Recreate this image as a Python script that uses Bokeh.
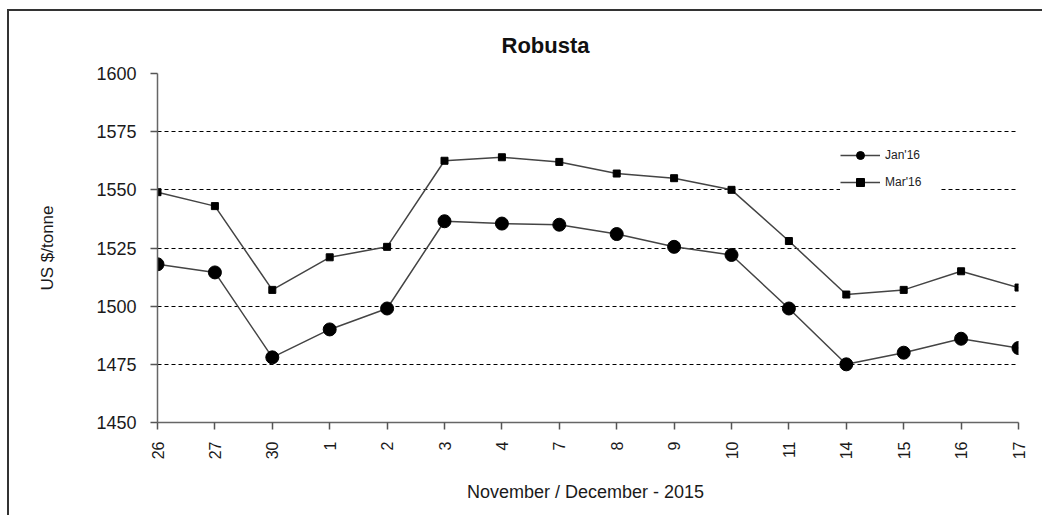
from bokeh.plotting import figure
from bokeh.models import Range1d, FixedTicker, Legend, LegendItem
from bokeh.embed import file_html
from bokeh.resources import INLINE
from math import pi

days = ["26", "27", "30", "1", "2", "3", "4", "7", "8", "9", "10", "11", "14", "15", "16", "17"]
jan16 = [1518, 1514.5, 1478, 1490, 1499, 1536.5, 1535.5, 1535, 1531, 1525.5, 1522, 1499, 1475, 1480, 1486, 1482]
mar16 = [1549, 1543, 1507, 1521, 1525.5, 1562.5, 1564, 1562, 1557, 1555, 1550, 1528, 1505, 1507, 1515, 1508]
y_ticks = [1450, 1475, 1500, 1525, 1550, 1575, 1600]

xs = list(range(len(days)))
FONT = "Liberation Sans"

p = figure(width=1035, height=506, output_backend="svg", toolbar_location=None,
           x_range=Range1d(0, len(days) - 1), y_range=Range1d(1450, 1600),
           min_border_left=148, min_border_right=26, min_border_top=62, min_border_bottom=95)
p.styles = {"border-top": "2px solid #333333", "border-left": "2px solid #333333",
            "margin-left": "7px", "margin-top": "9px"}
p.outline_line_color = None
p.background_fill_color = "white"

p.title.text = "Robusta"
p.title.text_font = FONT
p.title.text_font_size = "22px"
p.title.text_font_style = "bold"
p.title.text_color = "#111111"
p.title.align = "left"
p.title.offset = 344
p.title.standoff = 32

# axes
p.xaxis.ticker = FixedTicker(ticks=xs)
p.xaxis.major_label_overrides = {i: d for i, d in enumerate(days)}
p.xaxis.major_label_orientation = pi / 2
p.xaxis.major_label_text_font = FONT
p.xaxis.major_label_text_font_size = "16px"
p.xaxis.major_label_text_color = "#1a1a1a"
p.xaxis.major_label_standoff = 12
p.xaxis.axis_label = "November / December -  2015"
p.xaxis.axis_label_text_font = FONT
p.xaxis.axis_label_text_font_size = "18px"
p.xaxis.axis_label_text_font_style = "normal"
p.xaxis.axis_label_text_color = "#1a1a1a"
p.xaxis.axis_label_standoff = 20

p.yaxis.ticker = FixedTicker(ticks=y_ticks)
p.yaxis.major_label_text_font = FONT
p.yaxis.major_label_text_font_size = "18px"
p.yaxis.major_label_text_color = "#1a1a1a"
p.yaxis.major_label_standoff = 14
p.yaxis.axis_label = "US $/tonne"
p.yaxis.axis_label_text_font = FONT
p.yaxis.axis_label_text_font_size = "17px"
p.yaxis.axis_label_text_font_style = "normal"
p.yaxis.axis_label_text_color = "#1a1a1a"
p.yaxis.axis_label_standoff = 36

for ax in (p.xaxis, p.yaxis):
    ax.axis_line_color = "#666666"
    ax.axis_line_width = 1.5
    ax.major_tick_line_color = "#555555"
    ax.major_tick_line_width = 1.5
    ax.major_tick_in = 0
    ax.major_tick_out = 7
    ax.minor_tick_line_color = None

p.xgrid.grid_line_color = None
p.ygrid.grid_line_color = "black"
p.ygrid.grid_line_dash = "4 3"
p.ygrid.grid_line_width = 1
p.ygrid.ticker = FixedTicker(ticks=[t for t in y_ticks if t != 1450])

LINE = "#444444"
l1 = p.line(xs, jan16, line_color=LINE, line_width=1.5)
s1 = p.scatter(xs, jan16, marker="circle", size=13, fill_color="black", line_color="black")
l2 = p.line(xs, mar16, line_color=LINE, line_width=1.5)
s2 = p.scatter(xs, mar16, marker="square", size=7, fill_color="black", line_color="black")

legend = Legend(items=[LegendItem(label="Jan'16", renderers=[l1, s1]),
                       LegendItem(label="Mar'16", renderers=[l2, s2])],
                location=(683, 230), orientation="vertical",
                glyph_width=40, glyph_height=20, label_height=20, label_width=55,
                spacing=7, padding=10, margin=0, label_standoff=5,
                label_text_font=FONT, label_text_font_size="12px",
                label_text_color="#222222",
                background_fill_color="white", background_fill_alpha=1.0,
                border_line_color=None)
p.add_layout(legend, "center")

open("out.html", "w").write(file_html(p, INLINE))
